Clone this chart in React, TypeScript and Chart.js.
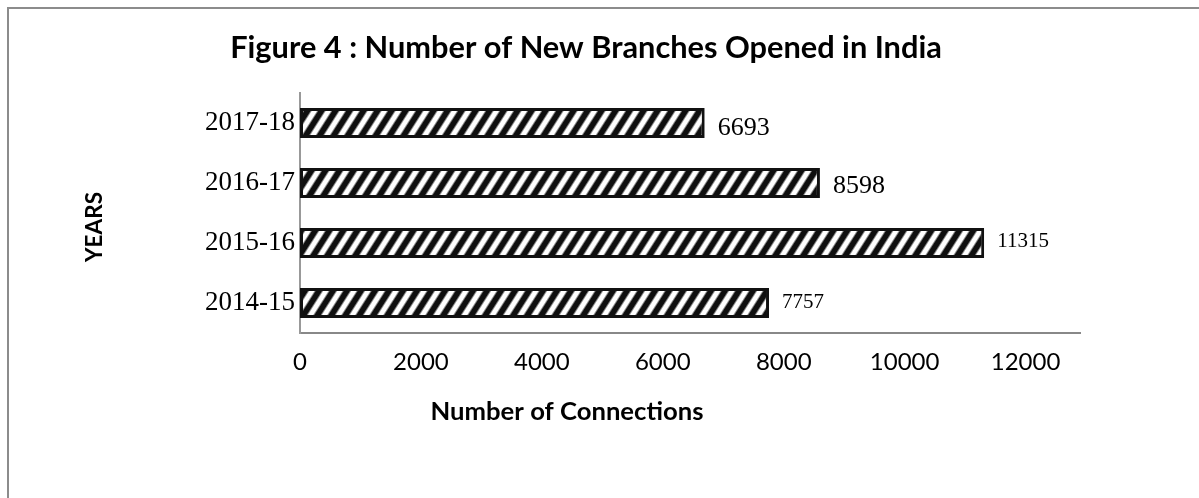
import React, { useEffect, useRef } from 'react';
import { Chart, registerables } from 'chart.js';

Chart.register(...registerables);

// ---- data ----
const categories = ['2014-15', '2015-16', '2016-17', '2017-18'];
const branches = [7757, 11315, 8598, 6693];
const xTicks = [0, 2000, 4000, 6000, 8000, 10000, 12000];

// ---- texts ----
const TITLE = 'Figure 4 : Number of New Branches Opened in India';
const X_TITLE = 'Number of Connections';
const Y_TITLE = 'YEARS';

// ---- styles ----
const labelSizes = [21, 21, 26, 26];
const labelDy = [-1, -2, 3, 5];

function makePattern(): CanvasPattern | string {
  const W = 14;
  const H = 22;
  const c = document.createElement('canvas');
  c.width = W;
  c.height = H;
  const ctx = c.getContext('2d');
  if (!ctx) return '#777';
  const img = ctx.createImageData(W, H);
  for (let y = 0; y < H; y++) {
    for (let x = 0; x < W; x++) {
      const phase = (((x + 0.5 + (y + 0.5) * (W / H)) % W) + W) % W / W;
      let d = 0.5 + 0.5 * Math.cos(2 * Math.PI * phase);
      d = Math.min(1, Math.max(0, (d - 0.45) * 2.0 + 0.5));
      const g = Math.round(15 + 240 * (1 - d));
      const k = (y * W + x) * 4;
      img.data[k] = g;
      img.data[k + 1] = g;
      img.data[k + 2] = g;
      img.data[k + 3] = 255;
    }
  }
  ctx.putImageData(img, 0, 0);
  const p = ctx.createPattern(c, 'repeat');
  return p || '#777';
}

function fitText(
  ctx: CanvasRenderingContext2D,
  text: string,
  weight: string,
  family: string,
  targetWidth: number
) {
  ctx.font = `${weight} 100px ${family}`;
  const w = ctx.measureText(text).width;
  const size = (100 * targetWidth) / w;
  ctx.font = `${weight} ${size}px ${family}`;
}

const textPlugin = {
  id: 'textPlugin',
  afterDatasetsDraw(chart: any) {
    const ctx: CanvasRenderingContext2D = chart.ctx;
    const meta = chart.getDatasetMeta(0);
    ctx.save();
    ctx.fillStyle = '#000';
    ctx.textAlign = 'left';
    ctx.textBaseline = 'middle';
    meta.data.forEach((bar: any, i: number) => {
      ctx.font = `${labelSizes[i]}px "Liberation Serif"`;
      ctx.fillText(String(branches[i]), bar.x + 13, bar.y + labelDy[i]);
    });
    ctx.restore();
  },
  afterDraw(chart: any) {
    const ctx: CanvasRenderingContext2D = chart.ctx;
    ctx.save();
    ctx.fillStyle = '#000';
    ctx.textBaseline = 'alphabetic';
    ctx.textAlign = 'center';
    fitText(ctx, TITLE, 'bold', 'Lato', 712);
    ctx.fillText(TITLE, 586, 58);
    fitText(ctx, X_TITLE, 'bold', 'Lato', 273);
    ctx.fillText(X_TITLE, 567, 420);
    ctx.translate(102, 227);
    ctx.rotate(-Math.PI / 2);
    fitText(ctx, Y_TITLE, 'bold', 'Lato', 70);
    ctx.fillText(Y_TITLE, 0, 0);
    ctx.restore();
  },
};

export default function App() {
  const ref = useRef<HTMLCanvasElement | null>(null);

  useEffect(() => {
    if (!ref.current) return;
    const pattern = makePattern();
    const chart = new Chart(ref.current, {
      type: 'bar',
      data: {
        labels: categories,
        datasets: [
          {
            data: branches,
            backgroundColor: pattern as any,
            borderColor: '#111',
            borderWidth: 3,
            borderSkipped: false,
            barPercentage: 0.5,
            categoryPercentage: 1,
          },
        ],
      },
      options: {
        indexAxis: 'y',
        animation: false,
        responsive: false,
        layout: { padding: { top: 93, left: 0, right: 119, bottom: 125 } },
        plugins: {
          legend: { display: false },
          title: { display: false },
          tooltip: { enabled: false },
        },
        scales: {
          x: {
            min: 0,
            max: 12900,
            afterBuildTicks: (s: any) => {
              s.ticks = xTicks.map((v) => ({ value: v }));
            },
            afterFit: (s: any) => {
              s.height = 40;
            },
            grid: { display: false, drawTicks: false },
            border: { display: true, color: '#888', width: 2 },
            ticks: {
              color: '#000',
              font: { family: 'Lato', size: 24 },
              padding: 15,
              maxRotation: 0,
              autoSkip: false,
              callback: (v: any) => String(v),
            },
          },
          y: {
            reverse: true,
            afterFit: (s: any) => {
              s.width = 300;
            },
            grid: { display: false, drawTicks: false },
            border: { display: true, color: '#999', width: 2 },
            ticks: {
              color: '#000',
              font: { family: 'Liberation Serif', size: 27 },
              padding: 5,
            },
          },
        },
      },
      plugins: [textPlugin],
    });
    return () => chart.destroy();
  }, []);

  return (
    <div>
      <div
        style={{
          position: 'absolute',
          left: 7,
          top: 7,
          width: 1192,
          height: 491,
          boxSizing: 'border-box',
          borderTop: '2px solid #8c8c8c',
          borderLeft: '2px solid #8c8c8c',
          background: '#fff',
        }}
      />
      <canvas
        ref={ref}
        width={1199}
        height={498}
        style={{ position: 'absolute', left: 0, top: 0 }}
      />
    </div>
  );
}
